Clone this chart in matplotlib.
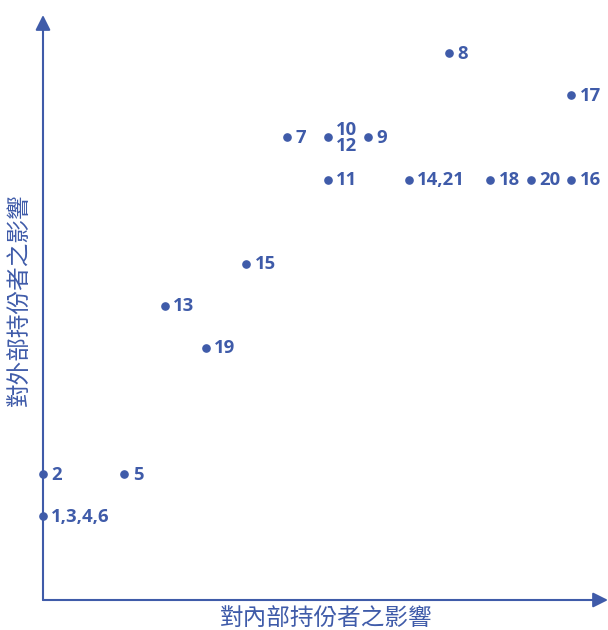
import matplotlib.pyplot as plt

plt.rcParams['font.family'] = ['Noto Sans CJK TC', 'DejaVu Sans']

# stakeholder issues: impact on internal (x) vs external (y) stakeholders
labels = ['1,3,4,6', '2', '5', '19', '13', '15', '7', '10\n12', '9', '11',
          '14,21', '18', '20', '16', '17', '8']
x_vals = [0, 0, 2, 4, 3, 5, 6, 7, 8, 7, 9, 11, 12, 13, 13, 10]
y_vals = [2, 3, 3, 6, 7, 8, 11, 11, 11, 10, 10, 10, 10, 10, 12, 13]

x_label = '對內部持份者之影響'
y_label = '對外部持份者之影響'

color = '#3F5BA9'

fig = plt.figure(figsize=(6.08, 6.30), dpi=100)
ax = fig.add_axes([43 / 608, 30 / 630, 565 / 608, 600 / 630])
ax.set_xlim(0, 13.9)
ax.set_ylim(0, 14.27)
for s in ax.spines.values():
    s.set_visible(False)
ax.set_xticks([])
ax.set_yticks([])

# axes with arrow heads
arrow = dict(arrowstyle='-|>,head_length=0.9,head_width=0.45', color=color, lw=1.5,
             shrinkA=0, shrinkB=0)
ax.annotate('', xy=(1.0, 0), xytext=(0, 0), xycoords='axes fraction', arrowprops=arrow,
            annotation_clip=False)
ax.annotate('', xy=(0, 0.975), xytext=(0, 0), xycoords='axes fraction', arrowprops=arrow,
            annotation_clip=False)

ax.plot(x_vals, y_vals, 'o', color=color, markersize=5.2, clip_on=False, zorder=3)
for xv, yv, lab in zip(x_vals, y_vals, labels):
    ax.annotate(lab, (xv, yv), xytext=(6, -0.5), textcoords='offset points',
                ha='left', va='center', color=color, fontsize=13.3, fontweight='bold',
                family=['Open Sans', 'DejaVu Sans'], linespacing=0.9)

fig.text(326 / 608, 1 - 618 / 630, x_label, ha='center', va='center', color=color, fontsize=17)
fig.text(19 / 608, 1 - 300 / 630, y_label, ha='center', va='center', color=color, fontsize=17,
         rotation=90)

fig.savefig('out.png', dpi=100)
